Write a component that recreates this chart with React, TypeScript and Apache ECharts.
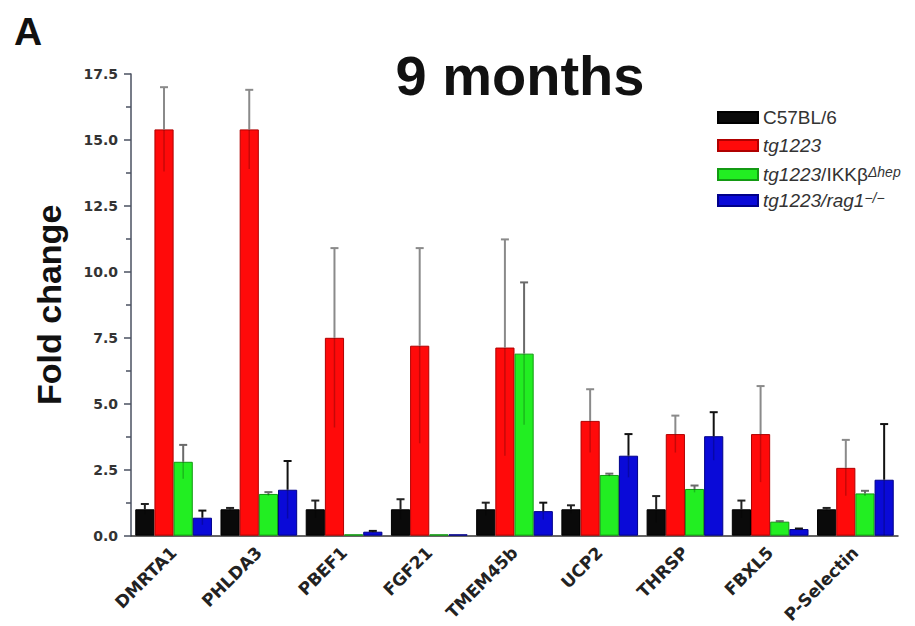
import React, { useEffect, useRef } from 'react';
import * as echarts from 'echarts';

const categories = ['DMRTA1', 'PHLDA3', 'PBEF1', 'FGF21', 'TMEM45b', 'UCP2', 'THRSP', 'FBXL5', 'P-Selectin'];
const seriesNames = ['C57BL/6', 'tg1223', 'tg1223/IKKβΔhep', 'tg1223/rag1−/−'];
const c57 = [1.0, 1.0, 1.0, 1.0, 1.0, 1.0, 1.0, 1.0, 1.0];
const c57Err = [0.2, 0.05, 0.33, 0.38, 0.25, 0.15, 0.5, 0.33, 0.05];
const tg = [15.4, 15.4, 7.5, 7.2, 7.13, 4.35, 3.85, 3.85, 2.57];
const tgErr = [1.6, 1.5, 3.4, 3.7, 4.1, 1.2, 0.7, 1.82, 1.06];
const ikk = [2.8, 1.58, 0.05, 0.05, 6.9, 2.3, 1.77, 0.53, 1.6];
const ikkErr = [0.64, 0.07, 0, 0, 2.7, 0.05, 0.13, 0.02, 0.1];
const rag = [0.68, 1.74, 0.15, 0.05, 0.93, 3.03, 3.77, 0.25, 2.12];
const ragErr = [0.27, 1.09, 0.03, 0, 0.32, 0.82, 0.91, 0.02, 2.11];
const yTicks = [0, 2.5, 5, 7.5, 10, 12.5, 15, 17.5];

const values = [c57, tg, ikk, rag];
const errors = [c57Err, tgErr, ikkErr, ragErr];
const fills = ['#0a0a0a', '#ff0a0a', '#22ee22', '#0a0ad8'];
const borders = ['#000000', '#b00000', '#139a13', '#00008a'];
const errColors = ['#222222', '#8a8a8a', '#6a6a6a', '#111111'];
const legendTops = [103, 131, 160, 186];
const FONT = 'Liberation Sans, Arial, sans-serif';

export default function App() {
  const ref = useRef<HTMLDivElement>(null);
  useEffect(() => {
    const chart = echarts.init(ref.current!, null, { renderer: 'svg' });
    const barSeries = values.map((vals, k) => ({
      name: seriesNames[k],
      type: 'bar',
      data: vals,
      barGap: '0%',
      barCategoryGap: '10%',
      itemStyle: { color: fills[k], borderColor: borders[k], borderWidth: 1 },
      z: 2,
    }));
    const errSeries = values.map((vals, k) => ({
      name: seriesNames[k] + ' err',
      type: 'custom',
      z: 3,
      data: vals.map((v, i) => [i, v, errors[k][i]]),
      encode: { x: 0, y: 1 },
      renderItem: (params: any, api: any) => {
        const i = api.value(0);
        const v = api.value(1);
        const e = api.value(2);
        if (!e) return null;
        const base = api.coord([i, v]);
        const top = api.coord([i, v + e]);
        const low = api.coord([i, Math.max(v - e, 0)]);
        const band = api.size([1, 0])[0];
        const bw = (band * 0.9) / 4;
        const x = base[0] + (k - 1.5) * bw;
        const cap = 4;
        return {
          type: 'group',
          children: [
            { type: 'line', shape: { x1: x, y1: base[1], x2: x, y2: top[1] }, style: { stroke: errColors[k], lineWidth: 2 } },
            { type: 'line', shape: { x1: x - cap, y1: top[1], x2: x + cap, y2: top[1] }, style: { stroke: errColors[k], lineWidth: 2 } },
            { type: 'line', shape: { x1: x, y1: base[1], x2: x, y2: low[1] }, style: { stroke: 'rgba(0,0,0,0.22)', lineWidth: 1.5 } },
          ],
        };
      },
    }));
    const rich = {
      n: { fontSize: 19, color: '#333', fontFamily: FONT },
      i: { fontSize: 19, color: '#333', fontStyle: 'italic', fontFamily: FONT },
      s: { fontSize: 14, lineHeight: 8, verticalAlign: 'top', color: '#333', fontStyle: 'italic', fontFamily: FONT },
    };
    const legends = seriesNames.map((name, k) => ({
      data: [name],
      orient: 'vertical',
      left: 712,
      top: legendTops[k],
      itemWidth: 40,
      itemHeight: 11,
      icon: 'rect',
      formatter: (nm: string) => {
        if (nm === seriesNames[0]) return '{n|C57BL/6}';
        if (nm === seriesNames[1]) return '{i|tg1223}';
        if (nm === seriesNames[2]) return '{i|tg1223}{n|/IKKβ}{s|Δhep}';
        return '{i|tg1223/rag1}{s|−/−}';
      },
      textStyle: { color: '#333', fontSize: 19, rich },
    }));
    const option: any = {
      animation: false,
      backgroundColor: '#ffffff',
      textStyle: { fontFamily: FONT },
      title: {
        text: '9 months',
        left: 515,
        top: 42,
        textAlign: 'center',
        textStyle: { fontSize: 56, fontWeight: 'bold', color: '#111', fontFamily: FONT },
      },
      graphic: [
        { type: 'text', left: 14, top: 12, style: { text: 'A', fontSize: 39, fontWeight: 'bold', fill: '#111', fontFamily: FONT } },
      ],
      legend: legends,
      grid: { left: 131, right: 17, top: 74, bottom: 89 },
      xAxis: {
        type: 'category',
        data: categories,
        axisLine: { lineStyle: { color: '#333', width: 1.5 } },
        axisTick: { show: false },
        axisLabel: {
          interval: 0,
          rotate: 45,
          margin: 14,
          fontSize: 17,
          fontWeight: 'bold',
          color: '#222',
          fontFamily: 'DejaVu Sans, sans-serif',
        },
      },
      yAxis: {
        type: 'value',
        min: yTicks[0],
        max: yTicks[yTicks.length - 1],
        interval: 2.5,
        name: 'Fold change',
        nameLocation: 'middle',
        nameRotate: 90,
        nameGap: 65,
        nameTextStyle: { fontSize: 34, fontWeight: 'bold', color: '#111', fontFamily: FONT },
        axisLine: { show: true, lineStyle: { color: '#4a5060', width: 1.5 } },
        axisTick: { show: true, length: 7, lineStyle: { color: '#4a5060', width: 1.5 } },
        minorTick: { show: true, splitNumber: 2, length: 5, lineStyle: { color: '#4a5060', width: 1.5 } },
        splitLine: { show: false },
        axisLabel: {
          margin: 13,
          fontSize: 14,
          fontWeight: 'bold',
          color: '#333',
          fontFamily: 'DejaVu Sans, sans-serif',
          formatter: (v: number) => v.toFixed(1),
        },
      },
      series: [...barSeries, ...errSeries],
    };
    chart.setOption(option);
    return () => chart.dispose();
  }, []);
  return <div ref={ref} style={{ position: 'fixed', left: 0, top: 0, width: 915, height: 626 }} />;
}
